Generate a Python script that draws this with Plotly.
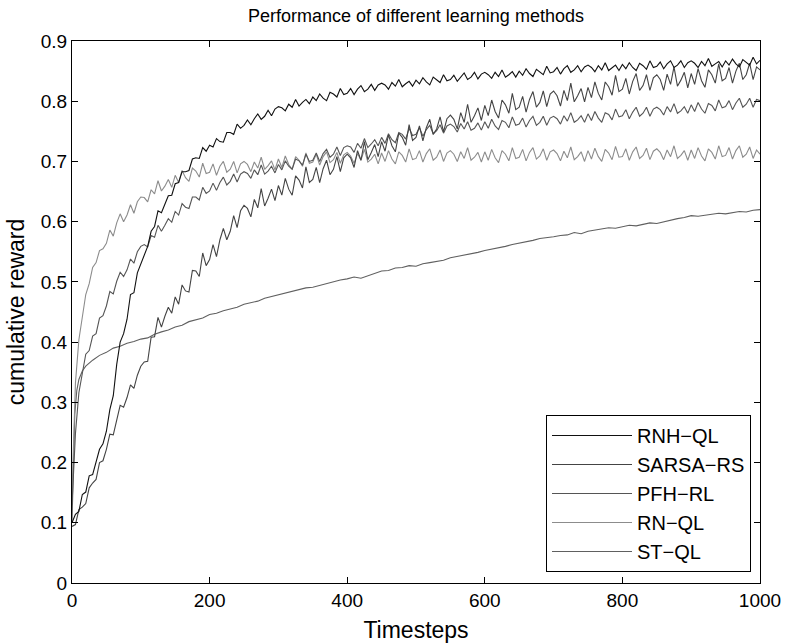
import plotly.graph_objects as go

# ---------------- data ----------------
steps = list(range(0, 1001, 5))

rnh_ql = [
    0.100, 0.114, 0.119, 0.147, 0.151, 0.178, 0.180, 0.203, 0.222, 0.231,
    0.252, 0.288, 0.311, 0.363, 0.400, 0.414, 0.438, 0.479, 0.482, 0.515,
    0.530, 0.546, 0.559, 0.584, 0.592, 0.618, 0.615, 0.629, 0.643, 0.644,
    0.663, 0.665, 0.683, 0.683, 0.685, 0.704, 0.706, 0.705, 0.723, 0.717,
    0.727, 0.724, 0.738, 0.733, 0.732, 0.748, 0.748, 0.745, 0.762, 0.755,
    0.760, 0.769, 0.761, 0.771, 0.779, 0.770, 0.775, 0.785, 0.776, 0.787,
    0.791, 0.789, 0.784, 0.795, 0.790, 0.803, 0.792, 0.798, 0.803, 0.796,
    0.807, 0.801, 0.812, 0.805, 0.801, 0.815, 0.812, 0.807, 0.821, 0.811,
    0.813, 0.821, 0.811, 0.820, 0.826, 0.816, 0.820, 0.828, 0.818, 0.827,
    0.830, 0.827, 0.820, 0.831, 0.825, 0.836, 0.824, 0.829, 0.833, 0.825,
    0.835, 0.829, 0.839, 0.832, 0.827, 0.840, 0.836, 0.831, 0.844, 0.834,
    0.836, 0.843, 0.833, 0.841, 0.847, 0.836, 0.840, 0.848, 0.837, 0.845,
    0.848, 0.844, 0.838, 0.848, 0.841, 0.852, 0.840, 0.844, 0.849, 0.840,
    0.850, 0.843, 0.854, 0.846, 0.841, 0.853, 0.849, 0.844, 0.858, 0.847,
    0.849, 0.856, 0.845, 0.854, 0.859, 0.848, 0.852, 0.859, 0.849, 0.857,
    0.860, 0.856, 0.849, 0.859, 0.852, 0.864, 0.851, 0.855, 0.860, 0.851,
    0.861, 0.854, 0.864, 0.856, 0.851, 0.863, 0.859, 0.853, 0.867, 0.856,
    0.858, 0.865, 0.854, 0.862, 0.867, 0.856, 0.860, 0.867, 0.856, 0.864,
    0.867, 0.863, 0.856, 0.866, 0.859, 0.871, 0.858, 0.862, 0.866, 0.857,
    0.867, 0.860, 0.870, 0.862, 0.857, 0.869, 0.865, 0.860, 0.873, 0.862,
    0.868,
]

sarsa_rs = [
    0.094, 0.097, 0.122, 0.126, 0.132, 0.158, 0.166, 0.172, 0.200, 0.203,
    0.222, 0.247, 0.246, 0.273, 0.295, 0.292, 0.308, 0.329, 0.323, 0.345,
    0.360, 0.367, 0.368, 0.408, 0.409, 0.441, 0.425, 0.443, 0.458, 0.448,
    0.475, 0.463, 0.495, 0.485, 0.483, 0.519, 0.518, 0.509, 0.548, 0.527,
    0.537, 0.562, 0.542, 0.570, 0.589, 0.570, 0.584, 0.610, 0.590, 0.618,
    0.627, 0.622, 0.608, 0.637, 0.623, 0.655, 0.626, 0.639, 0.654, 0.635,
    0.660, 0.644, 0.672, 0.654, 0.644, 0.676, 0.669, 0.656, 0.691, 0.665,
    0.670, 0.690, 0.665, 0.688, 0.702, 0.678, 0.687, 0.708, 0.683, 0.706,
    0.712, 0.706, 0.690, 0.718, 0.702, 0.733, 0.703, 0.715, 0.728, 0.708,
    0.733, 0.717, 0.744, 0.726, 0.716, 0.747, 0.740, 0.727, 0.761, 0.735,
    0.740, 0.759, 0.734, 0.756, 0.770, 0.745, 0.754, 0.774, 0.749, 0.771,
    0.777, 0.770, 0.754, 0.781, 0.765, 0.795, 0.765, 0.776, 0.789, 0.768,
    0.793, 0.776, 0.802, 0.783, 0.772, 0.802, 0.794, 0.780, 0.813, 0.786,
    0.790, 0.808, 0.782, 0.803, 0.816, 0.790, 0.798, 0.817, 0.791, 0.812,
    0.817, 0.809, 0.792, 0.818, 0.801, 0.830, 0.799, 0.809, 0.821, 0.799,
    0.823, 0.806, 0.832, 0.813, 0.802, 0.832, 0.824, 0.810, 0.843, 0.816,
    0.820, 0.838, 0.812, 0.833, 0.846, 0.818, 0.826, 0.844, 0.818, 0.839,
    0.844, 0.836, 0.818, 0.845, 0.828, 0.857, 0.825, 0.835, 0.848, 0.822,
    0.846, 0.828, 0.854, 0.834, 0.823, 0.852, 0.844, 0.830, 0.862, 0.834,
    0.838, 0.856, 0.830, 0.850, 0.863, 0.836, 0.844, 0.863, 0.836, 0.857,
    0.852,
]

pfh_rl = [
    0.130, 0.248, 0.316, 0.347, 0.380, 0.386, 0.410, 0.414, 0.440, 0.444,
    0.460, 0.484, 0.480, 0.501, 0.516, 0.509, 0.520, 0.538, 0.531, 0.550,
    0.559, 0.562, 0.558, 0.577, 0.574, 0.594, 0.584, 0.594, 0.605, 0.599,
    0.617, 0.611, 0.630, 0.624, 0.622, 0.641, 0.641, 0.636, 0.657, 0.647,
    0.651, 0.664, 0.652, 0.665, 0.674, 0.661, 0.667, 0.679, 0.666, 0.679,
    0.683, 0.680, 0.672, 0.686, 0.678, 0.694, 0.679, 0.684, 0.692, 0.681,
    0.695, 0.686, 0.701, 0.692, 0.687, 0.704, 0.701, 0.694, 0.712, 0.700,
    0.702, 0.714, 0.700, 0.713, 0.720, 0.707, 0.712, 0.724, 0.710, 0.723,
    0.726, 0.724, 0.715, 0.730, 0.722, 0.738, 0.723, 0.729, 0.736, 0.726,
    0.740, 0.730, 0.746, 0.736, 0.731, 0.748, 0.745, 0.737, 0.755, 0.743,
    0.745, 0.756, 0.742, 0.753, 0.760, 0.746, 0.751, 0.761, 0.747, 0.759,
    0.762, 0.758, 0.749, 0.763, 0.754, 0.766, 0.752, 0.755, 0.764, 0.752,
    0.766, 0.755, 0.770, 0.759, 0.753, 0.768, 0.765, 0.756, 0.774, 0.760,
    0.762, 0.772, 0.757, 0.768, 0.775, 0.760, 0.765, 0.775, 0.760, 0.772,
    0.775, 0.771, 0.762, 0.776, 0.767, 0.781, 0.765, 0.769, 0.776, 0.765,
    0.779, 0.768, 0.783, 0.772, 0.765, 0.781, 0.778, 0.769, 0.787, 0.774,
    0.776, 0.786, 0.771, 0.782, 0.790, 0.775, 0.780, 0.790, 0.775, 0.787,
    0.790, 0.786, 0.777, 0.791, 0.782, 0.796, 0.780, 0.784, 0.791, 0.780,
    0.794, 0.783, 0.798, 0.787, 0.780, 0.796, 0.793, 0.784, 0.802, 0.789,
    0.791, 0.801, 0.786, 0.797, 0.805, 0.790, 0.795, 0.805, 0.790, 0.803,
    0.801,
]

rn_ql = [
    0.150, 0.332, 0.404, 0.443, 0.479, 0.497, 0.524, 0.532, 0.552, 0.555,
    0.564, 0.586, 0.576, 0.598, 0.613, 0.600, 0.611, 0.628, 0.614, 0.633,
    0.641, 0.640, 0.633, 0.653, 0.646, 0.668, 0.651, 0.659, 0.670, 0.657,
    0.677, 0.665, 0.685, 0.673, 0.667, 0.689, 0.684, 0.674, 0.697, 0.680,
    0.682, 0.696, 0.677, 0.692, 0.700, 0.682, 0.687, 0.700, 0.681, 0.696,
    0.700, 0.695, 0.683, 0.699, 0.689, 0.707, 0.687, 0.693, 0.701, 0.686,
    0.704, 0.690, 0.709, 0.695, 0.687, 0.708, 0.702, 0.692, 0.714, 0.697,
    0.699, 0.712, 0.694, 0.708, 0.716, 0.698, 0.703, 0.715, 0.697, 0.711,
    0.715, 0.709, 0.697, 0.713, 0.702, 0.720, 0.699, 0.704, 0.712, 0.696,
    0.714, 0.700, 0.718, 0.704, 0.696, 0.716, 0.710, 0.699, 0.721, 0.703,
    0.705, 0.718, 0.699, 0.713, 0.721, 0.702, 0.707, 0.719, 0.700, 0.714,
    0.718, 0.712, 0.700, 0.716, 0.705, 0.723, 0.702, 0.707, 0.715, 0.699,
    0.716, 0.702, 0.720, 0.706, 0.698, 0.718, 0.712, 0.701, 0.723, 0.705,
    0.707, 0.720, 0.701, 0.715, 0.723, 0.704, 0.709, 0.721, 0.702, 0.716,
    0.719, 0.713, 0.701, 0.717, 0.706, 0.724, 0.703, 0.708, 0.716, 0.700,
    0.718, 0.704, 0.722, 0.708, 0.700, 0.720, 0.714, 0.703, 0.725, 0.707,
    0.708, 0.721, 0.702, 0.716, 0.724, 0.705, 0.710, 0.722, 0.703, 0.717,
    0.721, 0.715, 0.703, 0.719, 0.708, 0.726, 0.705, 0.710, 0.718, 0.702,
    0.719, 0.705, 0.723, 0.709, 0.701, 0.721, 0.715, 0.704, 0.726, 0.708,
    0.710, 0.723, 0.704, 0.718, 0.726, 0.707, 0.712, 0.724, 0.705, 0.719,
    0.712,
]

st_steps = [0, 2, 4, 7, 10, 15] + list(range(20, 1001, 10))
st_ql = [
    0.100, 0.220, 0.280, 0.320, 0.338, 0.352,
    0.360, 0.370, 0.378, 0.383, 0.390, 0.393, 0.398, 0.401, 0.405, 0.407,
    0.413, 0.417, 0.420, 0.425, 0.428, 0.434, 0.437, 0.440, 0.446, 0.448,
    0.452, 0.455, 0.458, 0.463, 0.465, 0.468, 0.473, 0.476, 0.479, 0.482,
    0.484, 0.487, 0.490, 0.491, 0.494, 0.498, 0.500, 0.503, 0.505, 0.508,
    0.506, 0.510, 0.513, 0.518, 0.519, 0.523, 0.524, 0.527, 0.526, 0.530,
    0.532, 0.534, 0.536, 0.540, 0.542, 0.545, 0.547, 0.549, 0.552, 0.554,
    0.556, 0.559, 0.562, 0.564, 0.566, 0.569, 0.572, 0.573, 0.575, 0.577,
    0.578, 0.582, 0.580, 0.584, 0.586, 0.588, 0.590, 0.589, 0.592, 0.594,
    0.593, 0.596, 0.598, 0.597, 0.600, 0.603, 0.605, 0.607, 0.610, 0.609,
    0.611, 0.612, 0.614, 0.613, 0.615, 0.617, 0.616, 0.619, 0.620,
]

series_names = ["RNH−QL", "SARSA−RS", "PFH−RL", "RN−QL", "ST−QL"]
x_ticks = [0, 200, 400, 600, 800, 1000]
y_ticks = [0, 0.1, 0.2, 0.3, 0.4, 0.5, 0.6, 0.7, 0.8, 0.9]
y_tick_text = ["0", "0.1", "0.2", "0.3", "0.4", "0.5", "0.6", "0.7", "0.8", "0.9"]

for s in (rnh_ql, sarsa_rs, pfh_rl, rn_ql):
    assert len(s) == len(steps), len(s)
assert len(st_ql) == len(st_steps), len(st_ql)

# ---------------- figure ----------------
FONT = "Liberation Sans, Arial, Helvetica, sans-serif"
W, H = 786, 644
ML, MR, MT, MB = 72, 26, 41, 61

traces = [
    (st_steps, st_ql, series_names[4], "#606060", 5),
    (steps, rn_ql, series_names[3], "#8c8c8c", 4),
    (steps, pfh_rl, series_names[2], "#555555", 3),
    (steps, sarsa_rs, series_names[1], "#444444", 2),
    (steps, rnh_ql, series_names[0], "#111111", 1),
]

fig = go.Figure()
for xs, ys, name, col, rank in traces:
    fig.add_trace(go.Scatter(
        x=xs, y=ys, mode="lines", name=name,
        line=dict(color=col, width=1.1),
        legendrank=rank, legendgroup=name,
    ))

axis_common = dict(
    showline=True, linecolor="black", linewidth=1, mirror="allticks",
    ticks="inside", ticklen=6, tickcolor="black", tickwidth=1,
    showgrid=False, zeroline=False, automargin=False,
    tickfont=dict(family=FONT, size=19, color="black"),
)

pw = W - ML - MR

fig.update_layout(
    width=W, height=H,
    paper_bgcolor="white", plot_bgcolor="white",
    margin=dict(l=ML, r=MR, t=MT, b=MB),
    hovermode=False,
    title=dict(text="Performance of different learning methods",
               x=(ML + pw / 2) / W, xanchor="center", y=1 - 16 / H, yanchor="middle",
               pad=dict(t=0, b=0),
               font=dict(family=FONT, size=18, color="black")),
    xaxis=dict(range=[0, 1000], tickvals=x_ticks,
               title=dict(text="Timesteps", font=dict(family=FONT, size=23, color="black"), standoff=12),
               **axis_common),
    yaxis=dict(range=[0, 0.9], tickvals=y_ticks, ticktext=y_tick_text,
               title=dict(text="cumulative reward", font=dict(family=FONT, size=23, color="black"), standoff=9),
               **axis_common),
    showlegend=True,
    legend=dict(x=(546 - ML) / pw, y=(583 - 415) / (H - MT - MB), xanchor="left", yanchor="top",
                bgcolor="white", bordercolor="black", borderwidth=1,
                font=dict(family=FONT, size=20, color="black"),
                tracegroupgap=9, traceorder="normal", itemwidth=80),
)

fig.write_html(
    "out.html",
    config={"displayModeBar": False, "staticPlot": True},
    post_script="document.body.style.margin='0';document.body.style.overflow='hidden';",
)
